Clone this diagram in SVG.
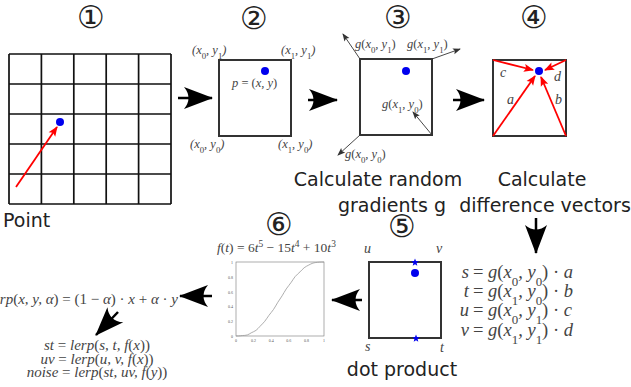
<svg xmlns="http://www.w3.org/2000/svg" width="631" height="387" viewBox="0 0 631 387">
<style>
.lbl{font-family:"DejaVu Sans","Liberation Sans",sans-serif;font-size:19px;fill:#222}
.num{font-family:"DejaVu Sans",sans-serif;font-size:31px;fill:#222;text-anchor:middle}
.m{font-family:"Liberation Serif","DejaVu Serif",serif;font-style:italic;fill:#444}
.r{font-style:normal}
.sub{font-size:70%;baseline-shift:sub;font-style:normal}
.sup{font-size:70%;baseline-shift:super;font-style:normal}
.box{fill:#fff;stroke:#333;stroke-width:2}
.grid{stroke:#111;stroke-width:1.7;fill:none}
.dot{fill:#0000ee}
.red{stroke:#f00;stroke-width:1.8;fill:none}
.thin{stroke:#333;stroke-width:0.9;fill:none}
.big{stroke:#000;stroke-width:2.5;fill:none}
.tick{font-family:"Liberation Serif",serif;font-size:4px;fill:#555}
</style>
<defs>
<marker id="big" viewBox="-30 -12 32 24" refX="0" refY="0" markerWidth="32" markerHeight="24" markerUnits="userSpaceOnUse" orient="auto">
<path d="M1,0 L-28,-11 Q-19,0 -28,11 Z" fill="#000"/>
</marker>
<marker id="redh" viewBox="-10 -5 11 10" refX="0" refY="0" markerWidth="11" markerHeight="10" markerUnits="userSpaceOnUse" orient="auto">
<path d="M1,0 L-9,-4 L-7,0 L-9,4 Z" fill="#f00"/>
</marker>
<marker id="thinh" viewBox="-8 -4 9 8" refX="0" refY="0" markerWidth="9" markerHeight="8" markerUnits="userSpaceOnUse" orient="auto">
<path d="M1,0 L-7,-3 L-5.5,0 L-7,3 Z" fill="#333"/>
</marker>
</defs>
<rect width="631" height="387" fill="#fff"/>

<g id="step1">
<text class="num" x="91" y="28">①</text>
<path class="grid" d="M9,54V204M41.4,54V204M73.8,54V204M106.2,54V204M138.6,54V204M171,54V204M9,54H171M9,84H171M9,114H171M9,144H171M9,174H171M9,204H171"/>
<line class="red" x1="16" y1="187" x2="57" y2="127" marker-end="url(#redh)"/>
<circle class="dot" cx="60" cy="122" r="4"/>
<text class="lbl" x="3" y="227">Point</text>
</g>

<g id="step2">
<text class="num" x="254" y="29">②</text>
<rect class="box" x="219" y="60" width="72" height="76"/>
<circle class="dot" cx="265" cy="71" r="4"/>
<text class="m" font-size="12.5" x="192" y="54">(x<tspan class="sub">0</tspan>, y<tspan class="sub">1</tspan>)</text>
<text class="m" font-size="12.5" x="281" y="54">(x<tspan class="sub">1</tspan>, y<tspan class="sub">1</tspan>)</text>
<text class="m" font-size="12.5" x="232" y="87">p <tspan class="r">= (</tspan>x, y<tspan class="r">)</tspan></text>
<text class="m" font-size="12.5" x="190" y="148">(x<tspan class="sub">0</tspan>, y<tspan class="sub">0</tspan>)</text>
<text class="m" font-size="12.5" x="278" y="148">(x<tspan class="sub">1</tspan>, y<tspan class="sub">0</tspan>)</text>
</g>

<g id="step3">
<text class="num" x="398" y="28">③</text>
<rect class="box" x="360" y="59" width="72" height="76"/>
<circle class="dot" cx="406" cy="71" r="4"/>
<line class="thin" x1="360" y1="59" x2="343" y2="34" marker-end="url(#thinh)"/>
<line class="thin" x1="432" y1="59" x2="460" y2="49" marker-end="url(#thinh)"/>
<line class="thin" x1="432" y1="135" x2="413" y2="112" marker-end="url(#thinh)"/>
<line class="thin" x1="360" y1="135" x2="338" y2="155" marker-end="url(#thinh)"/>
<text class="m" font-size="12.5" x="355" y="48">g<tspan class="r">(</tspan>x<tspan class="sub">0</tspan>, y<tspan class="sub">1</tspan><tspan class="r">)</tspan></text>
<text class="m" font-size="12.5" x="407" y="48">g<tspan class="r">(</tspan>x<tspan class="sub">1</tspan>, y<tspan class="sub">1</tspan><tspan class="r">)</tspan></text>
<text class="m" font-size="12.5" x="382" y="108">g<tspan class="r">(</tspan>x<tspan class="sub">1</tspan>, y<tspan class="sub">0</tspan><tspan class="r">)</tspan></text>
<text class="m" font-size="12.5" x="345" y="158">g<tspan class="r">(</tspan>x<tspan class="sub">0</tspan>, y<tspan class="sub">0</tspan><tspan class="r">)</tspan></text>
<text class="lbl" x="378" y="186" text-anchor="middle">Calculate random</text>
<text class="lbl" x="392" y="212" text-anchor="middle">gradients g</text>
</g>

<g id="step4">
<text class="num" x="534" y="28">④</text>
<rect class="box" x="493" y="60" width="73" height="76"/>
<line class="red" x1="493" y1="136" x2="535" y2="76" marker-end="url(#redh)"/>
<line class="red" x1="566" y1="136" x2="541" y2="77" marker-end="url(#redh)"/>
<line class="red" x1="493" y1="60" x2="533" y2="70" marker-end="url(#redh)"/>
<line class="red" x1="566" y1="60" x2="545" y2="70" marker-end="url(#redh)"/>
<circle class="dot" cx="539" cy="71" r="4"/>
<text class="m" font-size="14" x="500" y="77">c</text>
<text class="m" font-size="14" x="554" y="81">d</text>
<text class="m" font-size="14" x="507" y="104">a</text>
<text class="m" font-size="14" x="555" y="104">b</text>
<text class="lbl" x="542" y="186" text-anchor="middle">Calculate</text>
<text class="lbl" x="545" y="212" text-anchor="middle">difference vectors</text>
</g>

<g id="dotformulas">
<text class="m" font-size="18.5" y="278"><tspan x="469" text-anchor="end">s</tspan><tspan x="473" class="r">= </tspan>g<tspan class="r">(</tspan>x<tspan class="sub">0</tspan>, y<tspan class="sub">0</tspan><tspan class="r">) · </tspan>a</text>
<text class="m" font-size="18.5" y="297"><tspan x="469" text-anchor="end">t</tspan><tspan x="473" class="r">= </tspan>g<tspan class="r">(</tspan>x<tspan class="sub">1</tspan>, y<tspan class="sub">0</tspan><tspan class="r">) · </tspan>b</text>
<text class="m" font-size="18.5" y="316"><tspan x="469" text-anchor="end">u</tspan><tspan x="473" class="r">= </tspan>g<tspan class="r">(</tspan>x<tspan class="sub">0</tspan>, y<tspan class="sub">1</tspan><tspan class="r">) · </tspan>c</text>
<text class="m" font-size="18.5" y="336"><tspan x="469" text-anchor="end">v</tspan><tspan x="473" class="r">= </tspan>g<tspan class="r">(</tspan>x<tspan class="sub">1</tspan>, y<tspan class="sub">1</tspan><tspan class="r">) · </tspan>d</text>
</g>

<g id="step5">
<text class="num" x="402" y="237">⑤</text>
<rect class="box" x="369" y="262" width="72" height="76"/>
<circle class="dot" cx="415" cy="273" r="4"/>
<path class="dot" d="M415,258.5l1,2.6 2.8,0.2 -2.2,1.8 0.7,2.7 -2.3,-1.5 -2.3,1.5 0.7,-2.7 -2.2,-1.8 2.8,-0.2z"/>
<path class="dot" d="M416,334.5l1,2.6 2.8,0.2 -2.2,1.8 0.7,2.7 -2.3,-1.5 -2.3,1.5 0.7,-2.7 -2.2,-1.8 2.8,-0.2z"/>
<text class="m" font-size="14" x="364" y="253">u</text>
<text class="m" font-size="14" x="436" y="253">v</text>
<text class="m" font-size="14" x="365" y="351">s</text>
<text class="m" font-size="14" x="440" y="352">t</text>
<text class="lbl" x="402" y="376" text-anchor="middle">dot product</text>
</g>

<g id="step6">
<text class="num" x="279" y="235">⑥</text>
<text class="m" font-size="13.5" x="217" y="252">f<tspan class="r">(</tspan>t<tspan class="r">) = 6</tspan>t<tspan class="sup">5</tspan><tspan class="r"> − 15</tspan>t<tspan class="sup">4</tspan><tspan class="r"> + 10</tspan>t<tspan class="sup">3</tspan></text>
<rect x="236" y="262" width="88" height="74" fill="#fff" stroke="#777" stroke-width="0.6"/>
<path d="M236,336 C240,336 241,335.5 244.8,335.4 S250,333 253.6,331.7 S259,327 262.4,323.9 S268,316 271.2,312.5 S277,303 280,299 S285,290 288.8,285.5 S294,277 297.6,274.1 S303,268 306.4,266.3 S312,263 315.2,262.6 S320,262 324,262" fill="none" stroke="#999" stroke-width="0.8"/>
<g class="tick" text-anchor="end">
<text x="233" y="263.5">1</text><text x="233" y="279">0.8</text><text x="233" y="293.6">0.6</text><text x="233" y="308.4">0.4</text><text x="233" y="323.2">0.2</text><text x="233" y="338">0</text>
</g>
<g class="tick" text-anchor="middle">
<text x="236" y="342">0</text><text x="253.6" y="342">0.2</text><text x="271.2" y="342">0.4</text><text x="288.8" y="342">0.6</text><text x="306.4" y="342">0.8</text><text x="324" y="342">1</text>
</g>
</g>

<g id="lerp">
<text class="m" font-size="15" x="178" y="304" text-anchor="end">lerp<tspan class="r">(</tspan>x, y, α<tspan class="r">) = (1 − </tspan>α<tspan class="r">) · </tspan>x<tspan class="r"> + </tspan>α<tspan class="r"> · </tspan>y</text>
</g>

<g id="noise">
<text class="m" font-size="15" x="97" y="350" text-anchor="middle">st <tspan class="r">= </tspan>lerp<tspan class="r">(</tspan>s, t, f<tspan class="r">(</tspan>x<tspan class="r">))</tspan></text>
<text class="m" font-size="15" x="97" y="363.5" text-anchor="middle">uv <tspan class="r">= </tspan>lerp<tspan class="r">(</tspan>u, v, f<tspan class="r">(</tspan>x<tspan class="r">))</tspan></text>
<text class="m" font-size="15" x="97" y="377" text-anchor="middle">noise <tspan class="r">= </tspan>lerp<tspan class="r">(</tspan>st, uv, f<tspan class="r">(</tspan>y<tspan class="r">))</tspan></text>
</g>

<g id="connectors">
<line class="big" x1="178" y1="98" x2="212" y2="98" marker-end="url(#big)"/>
<line class="big" x1="308" y1="100" x2="337" y2="100" marker-end="url(#big)"/>
<line class="big" x1="453" y1="100" x2="484" y2="100" marker-end="url(#big)"/>
<line class="big" x1="536" y1="218" x2="536" y2="253" marker-end="url(#big)"/>
<line class="big" x1="362" y1="300" x2="332" y2="300" marker-end="url(#big)"/>
<line class="big" x1="212" y1="296" x2="180" y2="296" marker-end="url(#big)"/>
<line class="big" x1="118" y1="312" x2="96" y2="335" marker-end="url(#big)"/>
</g>
</svg>
